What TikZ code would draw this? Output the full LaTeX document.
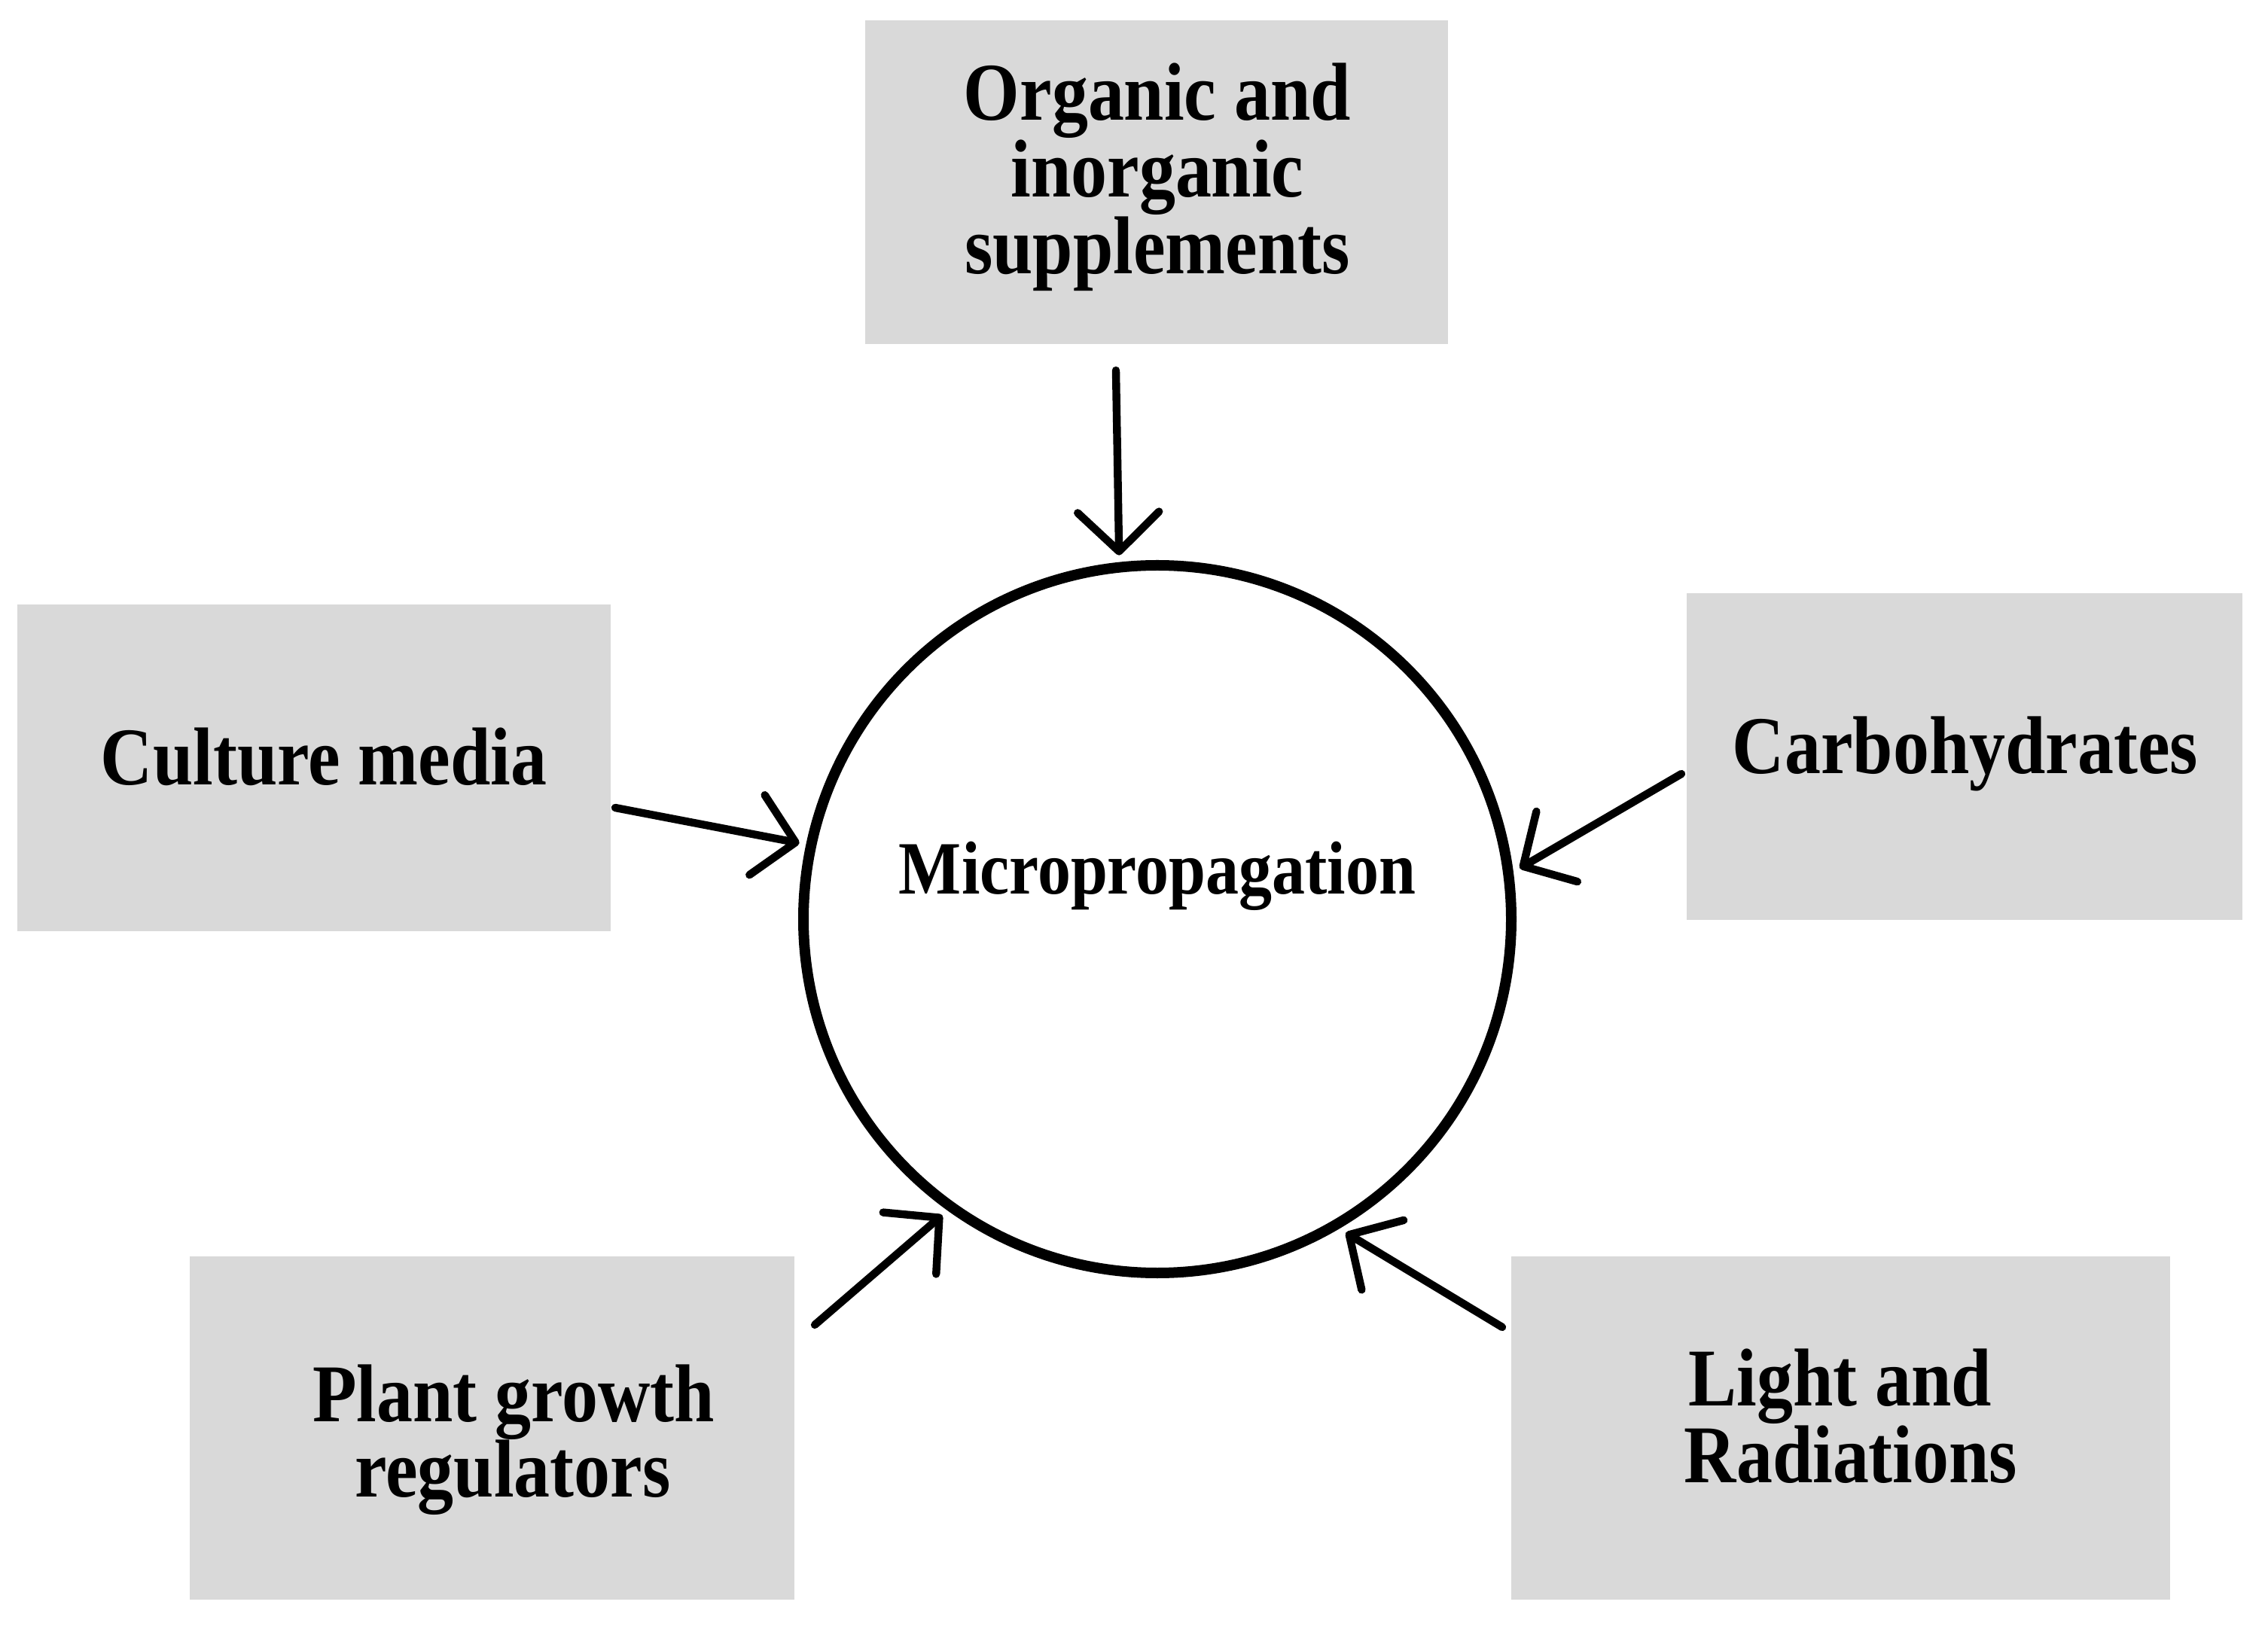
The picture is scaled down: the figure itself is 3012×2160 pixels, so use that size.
\documentclass[tikz,border=0pt]{standalone}
\usepackage{fontspec}
\setmainfont{Liberation Serif}[FakeStretch=0.88]
\usetikzlibrary{arrows.meta,fit}
\definecolor{boxgray}{HTML}{D9D9D9}
\begin{document}
\begin{tikzpicture}[x=0.25pt,y=-0.25pt,
  box/.style={fill=boxgray, draw=none, inner sep=0pt},
  lbl/.style={anchor=base, inner sep=0pt, text=black,
    font=\fontsize{27.25pt}{27.25pt}\selectfont\bfseries},
  ctrlbl/.style={anchor=base, inner sep=0pt, text=black,
    font=\fontsize{25pt}{25pt}\selectfont\bfseries},
  hub/.style={circle, draw=black, line width=3.5pt, fill=white,
    minimum size=235pt, inner sep=0pt, outer sep=4pt},
  feed/.style={draw=black, line width=2.6pt, line cap=round,
    -{Straight Barb[length=13pt,width=27pt,line cap=round,line join=round]}}]
\useasboundingbox (0,0) rectangle (3012,2160);
\fill[white] (0,0) rectangle (3012,2160);

% boxes
\node[box, fit={(1149,27) (1923,457)}] (org) {};
\node[box, fit={(23,803) (811,1237)}] (cul) {};
\node[box, fit={(2240,788) (2978,1222)}] (car) {};
\node[box, fit={(252,1669) (1055,2125)}] (pla) {};
\node[box, fit={(2007,1669) (2882,2125)}] (lig) {};

% central circle
\node[hub] (circ) at (1537,1221) {};

% texts
\node[lbl] (orgA) at (1537,160) {Organic and};
\node[lbl] (orgB) at (1537,262) {inorganic};
\node[lbl] (orgC) at (1537,364) {supplements};
\node[lbl] (culA) at (430,1043) {Culture media};
\node[lbl] (carA) at (2610,1028) {Carbohydrates};
\node[lbl] (plaA) at (682,1888) {Plant growth};
\node[lbl] (plaB) at (681,1988) {regulators};
\node[lbl] (ligA) at (2444,1867) {Light and};
\node[lbl] (ligB) at (2458,1969) {Radiations};
\node[ctrlbl] (micro) at (1537,1188) {Micropropagation};

% arrow starts
\coordinate (s1) at (1482,492);
\coordinate (s2) at (817,1073);
\coordinate (s3) at (2233,1028);
\coordinate (s4) at (1082,1760);
\coordinate (s5) at (1995,1763);

% connectors
\draw[feed] (s1) -- (circ.96.3);
\draw[feed] (s2) -- (circ.168.9);
\draw[feed] (s3) -- (circ.8.5);
\draw[feed] (s4) -- (circ.234.6);
\draw[feed] (s5) -- (circ.301.4);
\end{tikzpicture}
\end{document}
